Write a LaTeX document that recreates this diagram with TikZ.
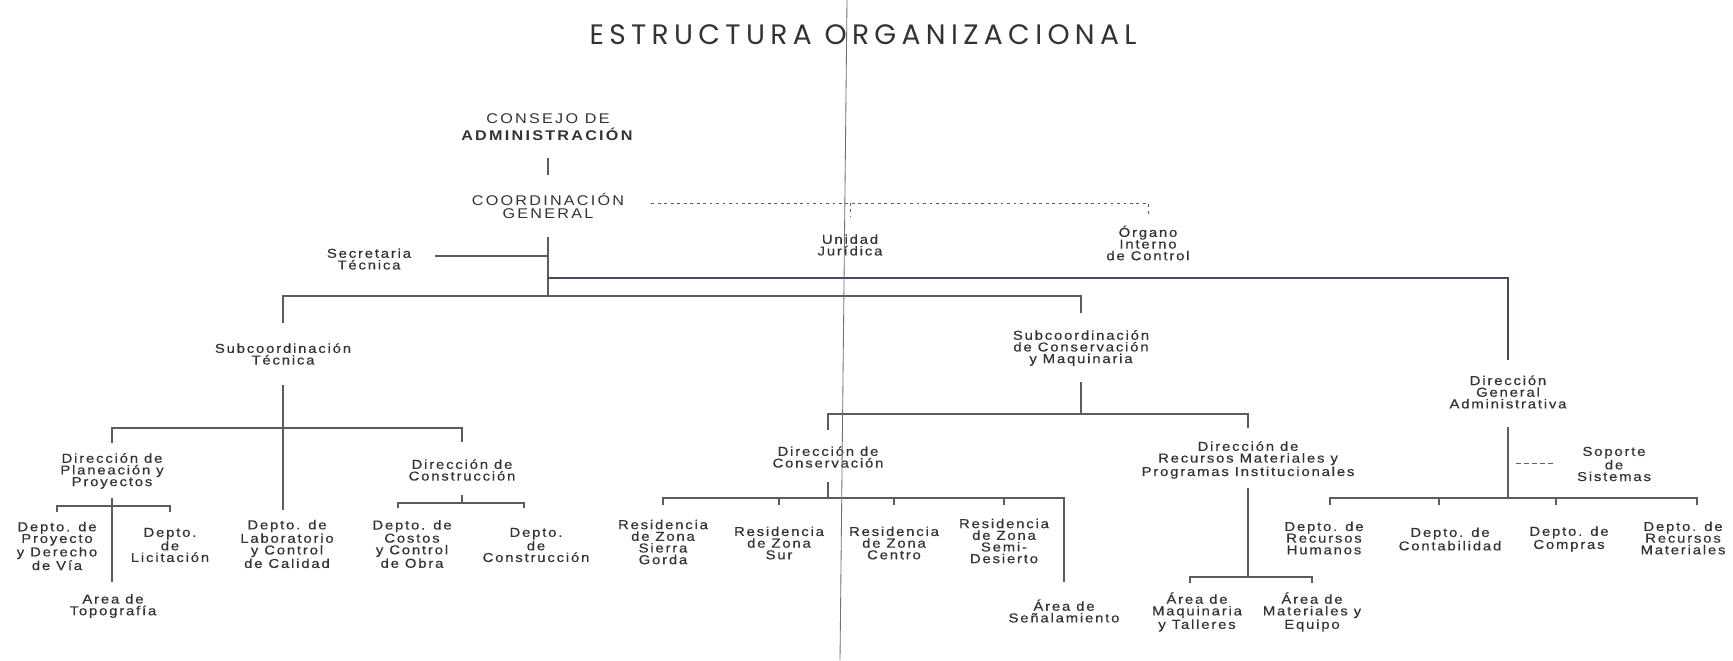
\documentclass[tikz,border=0pt]{standalone}
\usepackage{fontspec}
\setmainfont{Liberation Sans}
\newfontfamily\orgsmall[LetterSpace=14,FakeStretch=1.15,FakeBold=0.4]{Liberation Sans}
\newfontfamily\orgmid[LetterSpace=16,FakeStretch=1.15]{Liberation Sans}
\newfontfamily\orgtitle[LetterSpace=19]{Poppins}
\usetikzlibrary{calc}
\definecolor{txt}{HTML}{333333}
\definecolor{lncol}{HTML}{5C5C5C}
\definecolor{purp}{HTML}{4E4468}
\definecolor{foldc}{HTML}{707070}
\begin{document}
\begin{tikzpicture}[x=0.25mm,y=-0.25mm,
  every node/.style={inner sep=0pt,align=center,text=txt},
  lbl/.style={font=\orgsmall\fontsize{9.2}{8.3}\selectfont},
  head/.style={font=\orgmid\fontsize{10}{9.3}\selectfont},
  ttl/.style={font=\orgtitle\fontsize{20}{22}\selectfont},
  ln/.style={draw=lncol,line width=0.8pt},
  dotln/.style={draw=lncol,line width=0.7pt,dash pattern=on 2pt off 2.6pt},
  dashln/.style={draw=lncol,line width=0.7pt,dash pattern=on 3.3pt off 2.4pt},
  foldln/.style={draw=foldc,line width=0.6pt}]
\fill[white] (0,0) rectangle (1733,660);
\useasboundingbox (0,0) rectangle (1733,660);

% nodes
\node[ttl] (title) at (863,35) {ESTRUCTURA ORGANIZACIONAL};
\node[font=\orgmid\fontsize{10}{12}\selectfont] (consejo) at (548,127) {CONSEJO DE\\\textbf{ADMINISTRACIÓN}};
\node[head] (coord) at (548,206) {COORDINACIÓN\\GENERAL};
\node[lbl] (secre) at (369,259) {Secretaria\\Técnica};
\node[lbl] (unidad) at (850,245) {Unidad\\Jurídica};
\node[lbl] (organo) at (1148,243) {Órgano\\Interno\\de Control};
\node[lbl] (subtec) at (283,354) {Subcoordinación\\Técnica};
\node[lbl] (subcons) at (1081,348) {Subcoordinación\\de Conservación\\y Maquinaria};
\node[lbl] (dga) at (1508,392) {Dirección\\General\\Administrativa};
\node[lbl] (dplan) at (112,471) {Dirección de\\Planeación y\\Proyectos};
\node[lbl] (dcons) at (462,470) {Dirección de\\Construcción};
\node[lbl] (dconserv) at (828,457) {Dirección de\\Conservación};
\node[lbl] (drec) at (1248,460) {Dirección de\\Recursos Materiales y\\Programas Institucionales};
\node[lbl] (soporte) at (1614,464) {Soporte\\de\\Sistemas};
\node[lbl] (dproy) at (57,546) {Depto. de\\Proyecto\\y Derecho\\de Vía};
\node[lbl] (dlic) at (170,545) {Depto.\\de\\Licitación};
\node[lbl] (topo) at (113,606) {Area de\\Topografía};
\node[lbl] (dlab) at (287,544) {Depto. de\\Laboratorio\\y Control\\de Calidad};
\node[lbl] (dcostos) at (412,544) {Depto. de\\Costos\\y Control\\de Obra};
\node[lbl] (dconstr) at (536,545) {Depto.\\de\\Construcción};
\node[lbl] (rsierra) at (663,542) {Residencia\\de Zona\\Sierra\\Gorda};
\node[lbl] (rsur) at (779,543) {Residencia\\de Zona\\Sur};
\node[lbl] (rcentro) at (894,543) {Residencia\\de Zona\\Centro};
\node[lbl] (rsemi) at (1004,541) {Residencia\\de Zona\\Semi-\\Desierto};
\node[lbl] (senal) at (1064,611) {Área de\\Señalamiento};
\node[lbl] (rh) at (1324,538) {Depto. de\\Recursos\\Humanos};
\node[lbl] (conta) at (1450,539) {Depto. de\\Contabilidad};
\node[lbl] (compras) at (1569,539) {Depto. de\\Compras};
\node[lbl] (rmat) at (1683,538) {Depto. de\\Recursos\\Materiales};
\node[lbl] (maq) at (1197,612) {Área de\\Maquinaria\\y Talleres};
\node[lbl] (mateq) at (1312,612) {Área de\\Materiales y\\Equipo};

% connectors
\draw[ln] (consejo |- 0,158) -- (coord |- 0,175);
\draw[dotln] ($(coord.east)+(27,-3)$) -- (organo |- 0,203) -- (organo |- 0,217);
\draw[dotln] (unidad |- 0,203) -- (unidad |- 0,217);
\draw[ln] (coord |- 0,237) -- (coord |- 0,297);
\draw[ln] ($(secre.east |- 0,256)+(24,0)$) -- (coord |- 0,256);
\draw[ln,draw=purp] (coord |- 0,278) -| (dga |- 0,360);
\draw[ln] (subtec |- 0,323) |- (subcons |- 0,296) -- (subcons |- 0,313);
\draw[ln] (subtec |- 0,385) -- (subtec |- 0,510);
\draw[ln] (dplan |- 0,443) |- (dcons |- 0,428) -- (dcons |- 0,442);
\draw[ln] (dplan |- 0,498) -- (dplan |- 0,582);
\draw[ln] (dproy |- 0,512) |- (dlic |- 0,506) -- (dlic |- 0,512);
\draw[ln] (dcons |- 0,495) -- (dcons |- 0,503);
\draw[ln] ($(dcostos |- 0,508)+(-14,0)$) |- ($(dconstr |- 0,503)+(-12,0)$) -- ++(0,5);
\draw[ln] (subcons |- 0,382) -- (subcons |- 0,414);
\draw[ln] (dconserv |- 0,430) |- (drec |- 0,414) -- (drec |- 0,428);
\draw[ln] (dconserv |- 0,482) -- (dconserv |- 0,498);
\draw[ln] (rsierra |- 0,505) |- (senal |- 0,498) -- (senal |- 0,582);
\draw[ln] (rsur |- 0,498) -- (rsur |- 0,505);
\draw[ln] (rcentro |- 0,498) -- (rcentro |- 0,505);
\draw[ln] (rsemi |- 0,498) -- (rsemi |- 0,505);
\draw[ln] (drec |- 0,488) -- (drec |- 0,577);
\draw[ln] ($(maq |- 0,583)+(-7,0)$) |- (mateq |- 0,577) -- (mateq |- 0,583);
\draw[ln] (dga |- 0,427) -- (dga |- 0,498);
\draw[ln] ($(rh |- 0,505)+(6,0)$) |- ($(rmat |- 0,498)+(14,0)$) -- ++(0,7);
\draw[ln] ($(conta |- 0,498)+(-11,0)$) -- ++(0,7);
\draw[ln] ($(compras |- 0,498)+(-13,0)$) -- ++(0,7);
\draw[dashln] ($(dga |- 0,463)+(8,0)$) -- ($(soporte.west |- 0,463)+(-22,0)$);

% fold crease of the scanned sheet
\draw[foldln] (847,0) -- (840,660);
\end{tikzpicture}
\end{document}
